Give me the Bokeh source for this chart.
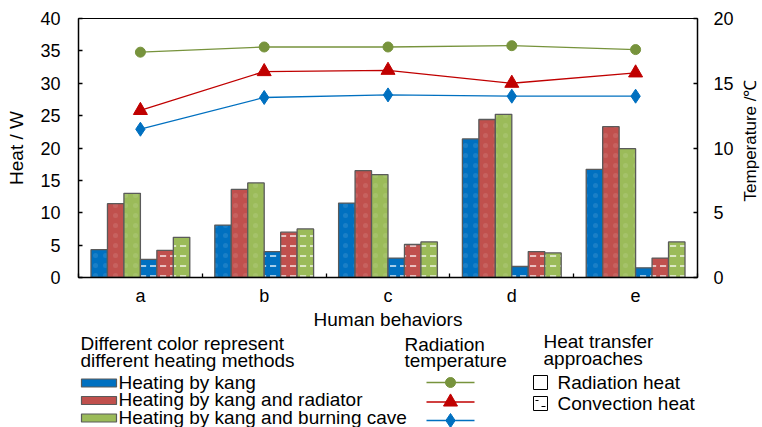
import math
import numpy as np
from bokeh.plotting import figure
from bokeh.models import Range1d, LinearAxis, FixedTicker, ColumnDataSource
from bokeh.layouts import column, row
from bokeh.core.properties import value
from bokeh.embed import file_html
from bokeh.resources import INLINE

# ---------------- data ----------------
categories = ["a", "b", "c", "d", "e"]
kang_rad = [4.3, 8.1, 11.5, 21.4, 16.7]
radiator_rad = [11.4, 13.6, 16.5, 24.4, 23.3]
cave_rad = [13.0, 14.6, 15.9, 25.2, 19.9]
kang_conv = [2.8, 4.0, 3.0, 1.7, 1.5]
radiator_conv = [4.2, 7.0, 5.1, 4.0, 3.0]
cave_conv = [6.2, 7.5, 5.5, 3.8, 5.5]
temp_cave = [17.4, 17.8, 17.8, 17.9, 17.6]
temp_radiator = [12.9, 15.9, 16.0, 15.0, 15.8]
temp_kang = [11.45, 13.9, 14.1, 14.0, 14.0]
heat_ticks = [0, 5, 10, 15, 20, 25, 30, 35, 40]
temp_ticks = [0, 5, 10, 15, 20]

BLUE, RED, GREEN = "#0070C0", "#C0504D", "#9BBB59"
LBLUE, LRED, LGREEN = "#0070C0", "#C00000", "#77933C"
FONT = "Liberation Sans"
FS = "18px"
LFS = "19px"
EDGE = "#5a5a5a"

FL, FT, FW, FH = 78, 18, 619, 259   # frame box in page pixels
W, H = 760, 425
STRIP = 20
MW = W - STRIP
MAIN_H = 327

centers = np.arange(len(categories)) + 0.5
bw = 0.133

p = figure(frame_width=FW, frame_height=FH, x_range=Range1d(0, 5), y_range=Range1d(0, 40),
           output_backend="svg", toolbar_location=None,
           min_border_left=FL, min_border_right=MW - FL - FW, min_border_top=FT,
           min_border_bottom=MAIN_H - FT - FH)
p.extra_y_ranges = {"temp": Range1d(0, 20)}
p.grid.visible = False
p.outline_line_color = "black"
p.outline_line_width = 1

series = [
    (kang_rad, BLUE, False), (radiator_rad, RED, False), (cave_rad, GREEN, False),
    (kang_conv, BLUE, True), (radiator_conv, RED, True), (cave_conv, GREEN, True),
]
for k, (vals, col, conv) in enumerate(series):
    xs = centers + (k - 2.5) * bw
    src = ColumnDataSource(dict(x=xs, top=vals))
    if conv:
        p.vbar(x="x", top="top", width=bw, source=src, fill_color=col, line_color=EDGE,
               line_width=1.3, hatch_pattern='"', hatch_color="white", hatch_scale=10,
               hatch_weight=1.3)
    else:
        p.vbar(x="x", top="top", width=bw, source=src, fill_color=col, line_color=EDGE,
               line_width=1.3, hatch_pattern=".", hatch_color="white", hatch_alpha=0.1,
               hatch_scale=10)

lines = [(temp_cave, LGREEN, "circle", 10), (temp_radiator, LRED, "triangle", 14),
         (temp_kang, LBLUE, "diamond", 14)]
for vals, col, mk, sz in lines:
    src = ColumnDataSource(dict(x=centers, y=vals))
    p.line("x", "y", source=src, line_color=col, line_width=1.3, y_range_name="temp")
    p.scatter("x", "y", source=src, marker=mk, size=sz, fill_color=col, line_color=col,
              y_range_name="temp")

# x axis
p.xaxis.ticker = FixedTicker(ticks=list(centers), minor_ticks=list(range(0, 6)))
p.xaxis.major_label_overrides = {float(c): lab for c, lab in zip(centers, categories)}
p.xaxis.major_tick_in = 0
p.xaxis.major_tick_out = 0
p.xaxis.minor_tick_in = 4
p.xaxis.minor_tick_out = 0
p.xaxis.axis_label = "Human behaviors"
p.xaxis.major_label_standoff = 8
p.xaxis.axis_label_standoff = 0

# left axis
p.yaxis.ticker = FixedTicker(ticks=heat_ticks)
p.yaxis.axis_label = "Heat / W"
p.yaxis.major_tick_in = 4
p.yaxis.major_tick_out = 0
p.yaxis.minor_tick_line_color = None
p.yaxis.major_label_standoff = 18
p.yaxis.axis_label_standoff = 10

# right axis (its title is drawn in a narrow strip, reading bottom-to-top)
ra = LinearAxis(y_range_name="temp", ticker=FixedTicker(ticks=temp_ticks))
ra.major_tick_in = 4
ra.major_tick_out = 0
ra.minor_tick_line_color = None
ra.major_label_standoff = 16
p.add_layout(ra, "right")

for ax in [p.xaxis[0], p.yaxis[0], ra]:
    ax.axis_line_color = "black"
    ax.axis_line_width = 1.5
    ax.major_tick_line_color = "black"
    ax.major_tick_line_width = 1.3
    ax.major_label_text_font = FONT
    ax.major_label_text_font_size = FS
    ax.major_label_text_color = "black"
    ax.axis_label_text_font = FONT
    ax.axis_label_text_font_size = LFS
    ax.axis_label_text_font_style = "normal"
    ax.axis_label_text_color = "black"
p.xaxis.minor_tick_line_color = "black"
p.xaxis.minor_tick_line_width = 1.3

# strip to the right holding the right-axis title (data units == page pixels)
strip = figure(frame_width=STRIP, frame_height=FH,
               x_range=Range1d(MW, W), y_range=Range1d(FT + FH, FT),
               output_backend="svg", toolbar_location=None,
               min_border_left=0, min_border_right=0, min_border_top=FT,
               min_border_bottom=MAIN_H - FT - FH, x_axis_type=None, y_axis_type=None)
strip.outline_line_color = None
strip.grid.visible = False
strip.text(x=[750], y=[140], text=["Temperature /℃"], angle=math.pi / 2,
           text_font=value(FONT), text_font_size="17px", text_align="center",
           text_baseline="middle", text_color="black")

# ---------------- legend panel (data units == page pixels) ----------------
lg = figure(frame_width=FW, frame_height=H - MAIN_H,
            x_range=Range1d(FL, FL + FW), y_range=Range1d(H, MAIN_H),
            output_backend="svg", toolbar_location=None,
            min_border_left=FL, min_border_right=MW - FL - FW, min_border_top=0, min_border_bottom=0,
            x_axis_type=None, y_axis_type=None)
lg.outline_line_color = None
lg.grid.visible = False

def txt(x, y, s):
    lg.text(x=[x], y=[y], text=[s], text_font=value(FONT), text_font_size=LFS,
            text_baseline="middle", text_align="left", text_color="black")

txt(80, 338, "Different color represent")
txt(80, 355, "different heating methods")
names = ["Heating by kang", "Heating by kang and radiator", "Heating by kang and burning cave"]
for y, col, name in zip([376.5, 394, 411.5], [BLUE, RED, GREEN], names):
    lg.rect(x=[98.5], y=[y + 1], width=35, height=8, fill_color=col, line_color=EDGE, line_width=1.2)
    txt(118, y, name)

txt(404, 339, "Radiation")
txt(404, 355, "temperature")
for y, (vals, col, mk, sz) in zip([377, 396.5, 415], lines):
    lg.line(x=[426, 474], y=[y, y], line_color=col, line_width=1.3)
    lg.scatter(x=[450], y=[y], marker=mk, size=sz, fill_color=col, line_color=col)

txt(543, 336, "Heat transfer")
txt(543, 353, "approaches")
lg.rect(x=[540], y=[377], width=14, height=14, fill_color="white", line_color="black", line_width=1)
txt(557, 377, "Radiation heat")
lg.rect(x=[540], y=[398], width=14, height=14, fill_color="white", line_color="black", line_width=1)
lg.segment(x0=[535, 541], y0=[395, 401], x1=[538, 545], y1=[395, 401],
           line_color="black", line_width=1.2)
txt(557, 398, "Convection heat")

layout = row(column(p, lg, spacing=0), strip, spacing=0)
open("out.html", "w").write(file_html(layout, INLINE))
